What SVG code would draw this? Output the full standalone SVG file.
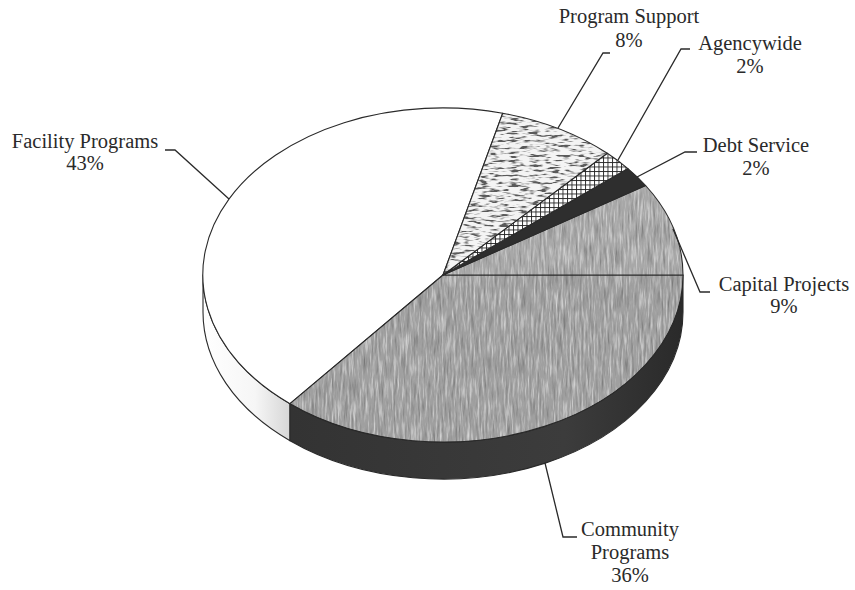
<svg xmlns="http://www.w3.org/2000/svg" width="855" height="590" viewBox="0 0 855 590">
<style>
.lbl{font-family:"Liberation Serif","Times New Roman",serif;font-size:20.5px;fill:#2a2a2a;text-anchor:middle}
.edge{stroke:#2a2a2a;stroke-width:1.1;stroke-linejoin:round}
.line{fill:none;stroke:#2a2a2a;stroke-width:1.1;stroke-linejoin:round}
.lead{fill:none;stroke:#2a2a2a;stroke-width:1.3}
</style>
<defs>
<filter id="grain" x="0" y="0" width="1" height="1">
<feTurbulence type="fractalNoise" baseFrequency="0.5 0.045" numOctaves="3" seed="7" result="n"/>
<feColorMatrix in="n" type="matrix" values="0 0 0 0 0  0 0 0 0 0  0 0 0 0 0  -1.3 0 0 0 0.6" result="dk"/>
<feColorMatrix in="n" type="matrix" values="0 0 0 0 1  0 0 0 0 1  0 0 0 0 1  1.3 0 0 0 -0.66" result="lt"/>
<feMerge result="m"><feMergeNode in="SourceGraphic"/><feMergeNode in="dk"/><feMergeNode in="lt"/></feMerge>
<feComposite in="m" in2="SourceGraphic" operator="in"/>
</filter>
<filter id="streak" x="0" y="0" width="1" height="1">
<feTurbulence type="fractalNoise" baseFrequency="0.1 0.4" numOctaves="2" seed="11" result="n"/>
<feColorMatrix in="n" type="matrix" values="0 0 0 0 0.1  0 0 0 0 0.1  0 0 0 0 0.1  -5 0 0 0 2.6" result="dk"/>
<feMerge result="m"><feMergeNode in="SourceGraphic"/><feMergeNode in="dk"/></feMerge>
<feComposite in="m" in2="SourceGraphic" operator="in"/>
</filter>
<pattern id="hatch" width="4.5" height="4.5" patternUnits="userSpaceOnUse">
<rect width="4.5" height="4.5" fill="#fff"/>
<path d="M0,0.5H4.5M0.5,0V4.5" stroke="#222" stroke-width="0.9"/>
</pattern>
<linearGradient id="facSide" x1="0" y1="0" x2="1" y2="0">
<stop offset="0" stop-color="#ffffff"/>
<stop offset="0.6" stop-color="#f6f6f6"/>
<stop offset="1" stop-color="#d6d6d6"/>
</linearGradient>
<linearGradient id="comSide" x1="0" y1="0" x2="1" y2="0">
<stop offset="0" stop-color="#333"/>
<stop offset="0.7" stop-color="#3c3c3c"/>
<stop offset="1" stop-color="#2a2a2a"/>
</linearGradient>
</defs>
<rect width="855" height="590" fill="#fff"/>

<g id="facility-programs">
<path class="edge" d="M203,275 A240,167 0 0 0 290,403.7 L290,440.7 A240,167 0 0 1 203,312 Z" fill="url(#facSide)"/>
<path class="edge" d="M443,275 L502.7,113.2 A240,167 0 0 0 290,403.7 Z" fill="#fff"/>
<text class="lbl" x="85" y="148">Facility Programs</text>
<text class="lbl" x="85" y="170">43%</text>
</g>

<g id="community-programs">
<path class="edge" d="M290,403.7 A240,167 0 0 0 683,275 L683,312 A240,167 0 0 1 290,440.7 Z" fill="url(#comSide)"/>
<path d="M443,275 L290,403.7 A240,167 0 0 0 683,275 Z" fill="#a0a0a0" filter="url(#grain)"/>
<path class="line" d="M443,275 L290,403.7 A240,167 0 0 0 683,275 Z"/>
<text class="lbl" x="630" y="536">Community</text>
<text class="lbl" x="630" y="559">Programs</text>
<text class="lbl" x="630" y="582">36%</text>
</g>

<g id="capital-projects">
<path d="M443,275 L683,275 A240,167 0 0 0 645.6,185.5 Z" fill="#a8a8a8" filter="url(#grain)"/>
<path class="line" d="M443,275 L683,275 A240,167 0 0 0 645.6,185.5 Z"/>
<text class="lbl" x="784" y="291">Capital Projects</text>
<text class="lbl" x="784" y="313">9%</text>
</g>

<g id="debt-service">
<path class="edge" d="M443,275 L645.6,185.5 A240,167 0 0 0 627.9,168.6 Z" fill="#2e2e2e"/>
<text class="lbl" x="756" y="152">Debt Service</text>
<text class="lbl" x="756" y="175">2%</text>
</g>

<g id="agencywide">
<path class="edge" d="M443,275 L627.9,168.6 A240,167 0 0 0 607.3,153.3 Z" fill="url(#hatch)"/>
<text class="lbl" x="750" y="50">Agencywide</text>
<text class="lbl" x="750" y="73">2%</text>
</g>

<g id="program-support">
<path d="M443,275 L607.3,153.3 A240,167 0 0 0 502.7,113.2 Z" fill="#f4f4f4" filter="url(#streak)"/>
<path class="line" d="M443,275 L607.3,153.3 A240,167 0 0 0 502.7,113.2 Z"/>
<text class="lbl" x="629" y="23">Program Support</text>
<text class="lbl" x="629" y="47">8%</text>
</g>

<g id="connectors">
<polyline class="lead" points="165,150 175,150 229,199"/>
<polyline class="lead" points="610,53 603,53 558,128"/>
<polyline class="lead" points="690,49 681,49 618,160"/>
<polyline class="lead" points="697,152 685,152 637,177"/>
<polyline class="lead" points="710,292 700,292 673,229"/>
<polyline class="lead" points="577,537 563,537 545,463"/>
</g>
</svg>
